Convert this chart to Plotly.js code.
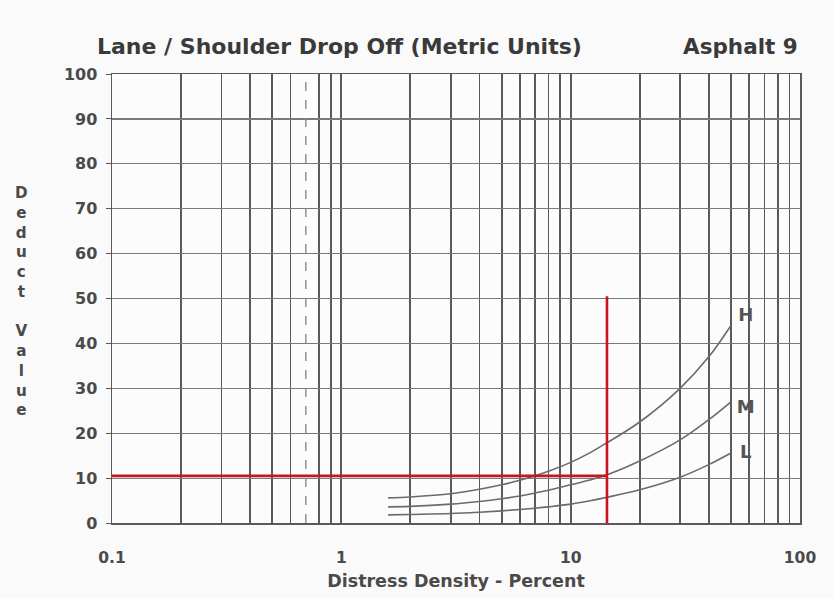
<!DOCTYPE html>
<html><head><meta charset="utf-8">
<script src="https://cdn.plot.ly/plotly-3.0.1.min.js"></script>
<style>body{margin:0;background:#fafafa}#c{width:833px;height:599px}</style>
</head><body><div id="c"></div>
<script>
// Curve data
const densityX = [1.6, 2, 3, 4, 5, 6, 7, 8, 10, 12, 14, 20, 30, 40, 50];
const deductH = [5.6, 5.8, 6.5, 7.5, 8.5, 9.5, 10.5, 11.5, 13.5, 15.5, 17.5, 22.5, 30, 37, 44];
const deductM = [3.6, 3.7, 4.2, 4.8, 5.4, 6.0, 6.7, 7.3, 8.5, 9.5, 10.5, 13.8, 18.5, 23, 27];
const deductL = [1.8, 1.9, 2.1, 2.4, 2.7, 3.0, 3.3, 3.6, 4.2, 4.9, 5.6, 7.4, 10.2, 13, 15.6];
// Red reading lines
const readHX = [0.1, 14.4];
const readHY = [10.5, 10.5];
const readVX = [14.4, 14.4];
const readVY = [-2, 50.5];
// Curve labels
const labelX = [58, 58, 58];
const labelY = [46, 25.5, 15.5];
const labelText = ['H', 'M', 'L'];
// Axis ticks
const xGrid = [0.1,0.2,0.3,0.4,0.5,0.6,0.8,0.9,1,2,3,4,5,6,7,8,9,10,20,30,40,50,60,70,80,90,100];
const xLabels = {0.1:'0.1', 1:'1', 10:'10', 100:'100'};
const dashedGridX = [0.7, 0.7];
const dashedGridY = [0, 100];
const yTicks = [0,10,20,30,40,50,60,70,80,90,100];

const fontFam = 'DejaVu Sans, sans-serif';
const textCol = '#4a4a4a';
const curve = {mode:'lines', line:{color:'#6b6b6b', width:1.6, shape:'spline'}, hoverinfo:'skip', showlegend:false};

const traces = [
  {x:dashedGridX, y:dashedGridY, mode:'lines', line:{color:'#8a8a8a', width:1.4, dash:'dash'}, showlegend:false, hoverinfo:'skip'},
  Object.assign({x:densityX, y:deductH}, curve),
  Object.assign({x:densityX, y:deductM}, curve),
  Object.assign({x:densityX, y:deductL}, curve),
  {x:readHX, y:readHY, mode:'lines', line:{color:'#c8141e', width:2.6}, showlegend:false, hoverinfo:'skip'},
  {x:readVX, y:readVY, mode:'lines', line:{color:'#c8141e', width:2.6}, showlegend:false, hoverinfo:'skip', cliponaxis:false},
  {x:labelX, y:labelY, text:labelText, mode:'text', textfont:{family:fontFam, size:18, color:'#555', weight:'bold'}, showlegend:false, hoverinfo:'skip', cliponaxis:false}
];

const layout = {
  width:833, height:599,
  margin:{l:112, r:33, t:74, b:76},
  paper_bgcolor:'#fafafa', plot_bgcolor:'#fcfcfc',
  font:{family:fontFam, color:textCol},
  xaxis:{
    type:'log', range:[-1, 2],
    tickvals:xGrid, ticktext:xGrid.map(v => xLabels[v] || ''),
    showgrid:true, gridcolor:'#5a5a5a', gridwidth:1.8,
    zeroline:false, showline:true, linecolor:'#5a5a5a', linewidth:1.5, mirror:true,
    ticks:'', ticklabelstandoff:20,
    tickfont:{size:15.5, color:textCol, family:fontFam, weight:'bold'},
    title:{text:'Distress Density - Percent', font:{size:17.5, color:textCol, family:fontFam, weight:'bold'}, standoff:8}
  },
  yaxis:{
    range:[0, 100], tickvals:yTicks,
    showgrid:true, gridcolor:'#7a7a7a', gridwidth:1.2,
    zeroline:false, showline:true, linecolor:'#5a5a5a', linewidth:1.5, mirror:true,
    ticks:'outside', ticklen:5, tickcolor:'#5a5a5a', ticklabelstandoff:5,
    tickfont:{size:16, color:textCol, family:fontFam, weight:'bold'}
  },
  annotations:[
    {xref:'paper', yref:'paper', x:-0.024, y:1.029, xanchor:'left', yanchor:'bottom', showarrow:false,
     text:'Lane / Shoulder Drop Off (Metric Units)', font:{size:22, color:'#3a3a3a', family:fontFam, weight:'bold'}},
    {xref:'paper', yref:'paper', x:1.0, y:1.029, xanchor:'right', yanchor:'bottom', showarrow:false,
     text:'Asphalt 9', font:{size:21.5, color:'#3a3a3a', family:fontFam, weight:'bold'}},
    {xref:'paper', yref:'paper', x:-0.131, y:0.494, xanchor:'center', yanchor:'middle', showarrow:false,
     text:'D<br>e<br>d<br>u<br>c<br>t<br><br>V<br>a<br>l<br>u<br>e', align:'center',
     font:{size:15.2, color:textCol, family:fontFam, weight:'bold'}}
  ]
};
Plotly.newPlot('c', traces, layout, {staticPlot:true});
</script></body></html>
